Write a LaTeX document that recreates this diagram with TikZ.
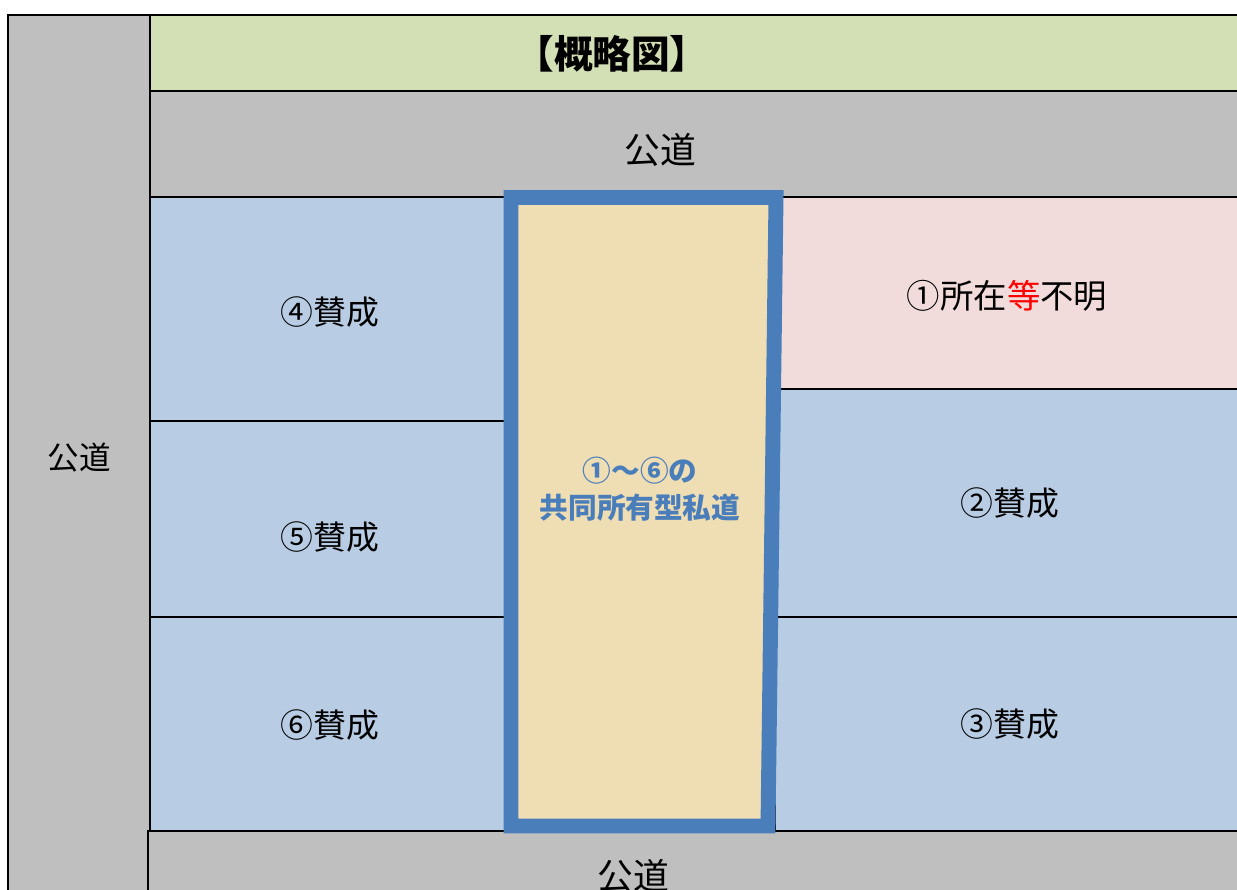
\documentclass[tikz,border=0pt]{standalone}
\usepackage{fontspec}
\setmainfont{Noto Sans CJK JP}
\newfontfamily\jp{Noto Sans CJK JP}
\definecolor{roadgray}{HTML}{BFBFBF}
\definecolor{headgreen}{HTML}{D3DFB4}
\definecolor{lotblue}{HTML}{B8CCE4}
\definecolor{lotpink}{HTML}{F2DCDB}
\definecolor{framebl}{HTML}{4A7EBB}
\definecolor{sand}{HTML}{EFDDB4}
\definecolor{redtxt}{HTML}{FF0000}
\tikzset{
  area/.style={draw=black, line width=0.8pt},
  lbl/.style={font=\jp\fontsize{18.7}{22}\selectfont, text=black, inner sep=0pt},
  roadlbl/.style={font=\jp\fontsize{20.4}{24}\selectfont, text=black, inner sep=0pt},
  privlbl/.style={font=\jp\bfseries\fontsize{16.3}{21}\selectfont, text=framebl, align=center, inner sep=0pt},
}
\begin{document}
\begin{tikzpicture}[x=0.02cm, y=-0.02cm]
\clip (0,0) rectangle (1237,889);
\fill[white] (0,0) rectangle (1237,889);
% left road
\path[area, fill=roadgray] (8,15) rectangle (150,895);
% header
\path[area, fill=headgreen] (150,15) rectangle (1240,91);
% top road
\path[area, fill=roadgray] (150,91) rectangle (1240,197);
% left lots
\path[area, fill=lotblue] (150,197) rectangle (510,421);
\path[area, fill=lotblue] (150,421) rectangle (510,617);
\path[area, fill=lotblue] (150,617) rectangle (510,831);
% right lots
\path[area, fill=lotpink] (775,197) rectangle (1240,389);
\path[area, fill=lotblue] (775,389) rectangle (1240,617);
\path[area, fill=lotblue] (775,617) rectangle (1240,831);
% bottom road
\path[area, fill=roadgray] (148,831) rectangle (1240,895);
% private road
\path[fill=sand] (511,197.5) -- (776,197.5) -- (768,826) -- (511,826) -- cycle;
\draw[framebl, line width=15*0.567pt, line join=miter] (511,197.5) -- (776,197.5) -- (768,826) -- (511,826) -- cycle;
% labels
\node[font=\jp\bfseries\fontsize{22}{26}\selectfont, inner sep=0pt] (title) at (612,54) {【概略図】};
\node[roadlbl] (roadtop) at (660,150) {公道};
\node[lbl, font=\jp\fontsize{18}{22}\selectfont] (roadleft) at (79,458) {公道};
\node[roadlbl] (roadbottom) at (633,876) {公道};
\node[lbl] (lot4) at (330,312) {④賛成};
\node[lbl] (lot5) at (330,537) {⑤賛成};
\node[lbl] (lot6) at (330,725) {⑥賛成};
\node[lbl, font=\jp\fontsize{19}{22}\selectfont] (lot1) at (1007,296) {①所在\textcolor{redtxt}{等}不明};
\node[lbl] (lot2) at (1010,503) {②賛成};
\node[lbl] (lot3) at (1010,724) {③賛成};
\node[privlbl] (priv) at (640,489) {①～⑥の\\共同所有型私道};
\end{tikzpicture}
\end{document}
